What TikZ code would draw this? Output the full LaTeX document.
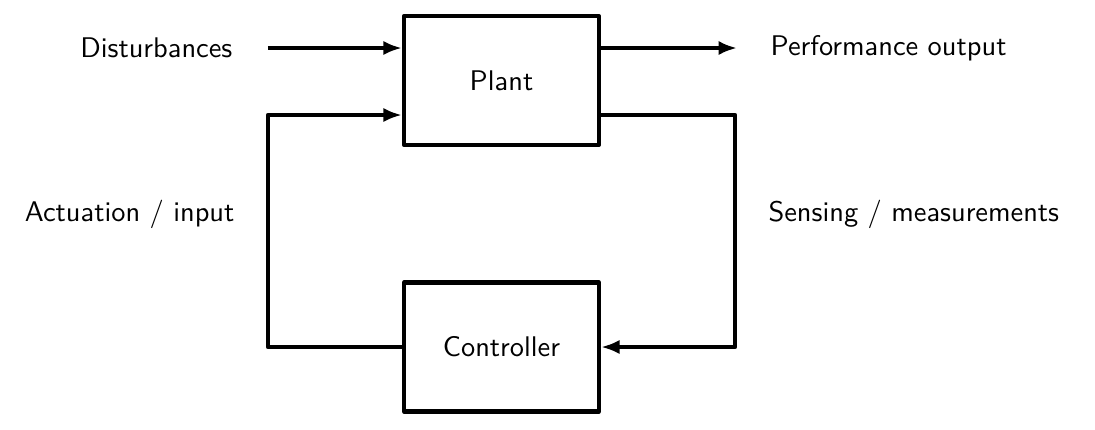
\documentclass[tikz,border=0pt]{standalone}
\usetikzlibrary{calc,arrows.meta}
\tikzstyle{block}=[draw, line width=1.5pt, line join=round, minimum width=68.6pt, minimum height=45.4pt, inner sep=0pt]
\tikzstyle{signal}=[line width=1.5pt, line join=round, -{Latex[length=6.5pt,width=5pt]}]
\tikzstyle{tag}=[inner sep=0pt]

\begin{document}
\begin{tikzpicture}[x=0.352pt, y=-0.352pt, font=\sffamily]
\useasboundingbox (0,0) rectangle (1095,429);
\node[block] (Plant) at (501.5,80.5) {Plant};
\node[block] (Ctrl) at (501.5,347) {Controller};
\coordinate (D0) at ($(Plant.west)+(-134,-32.5)$);
\coordinate (P0) at ($(Plant.east)+(136,-32.5)$);
\node[tag, anchor=east] (DistL) at ($(D0)+(-35,0)$) {Disturbances};
\node[tag, anchor=west] (PerfL) at ($(P0)+(33,0)$) {Performance output};
\node[tag, anchor=east] (ActL) at (235,214) {Actuation / input};
\node[tag, anchor=west] (SensL) at (768,214) {Sensing / measurements};
\draw[signal] (D0) -- (D0 -| Plant.west);
\draw[signal] (P0 -| Plant.east) -- (P0);
\draw[signal] (Ctrl.west) -- ++(-134,0) |- ($(Plant.west)+(0,34.5)$);
\draw[signal] ($(Plant.east)+(0,34.5)$) -| ($(Ctrl.east)+(134,0)$) -- (Ctrl.east);
\end{tikzpicture}
\end{document}
